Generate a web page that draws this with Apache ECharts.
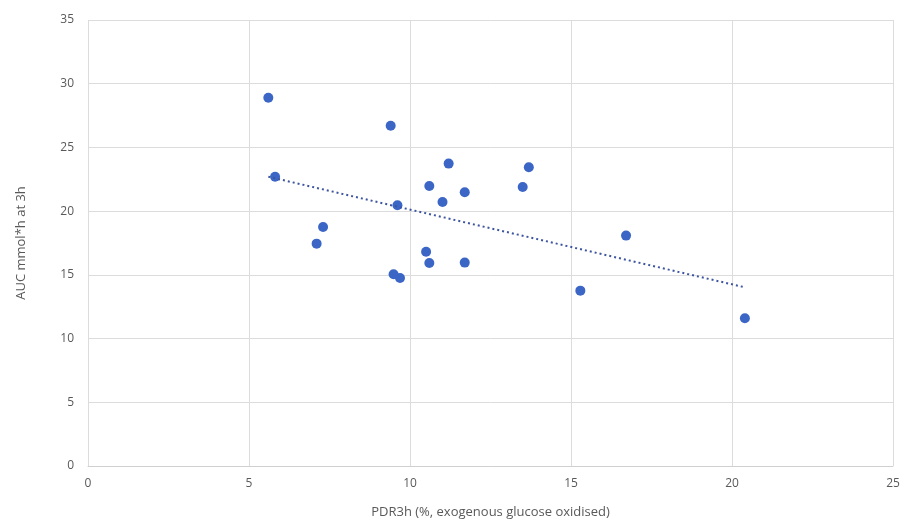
<!DOCTYPE html>
<html>
<head>
<meta charset="utf-8">
<script src="https://cdn.jsdelivr.net/npm/echarts@6/dist/echarts.min.js"></script>
<style>
  html, body { margin: 0; padding: 0; background: #fff; }
  #main { width: 906px; height: 524px; }
</style>
</head>
<body>
<div id="main"></div>
<script>
// PDR3h values (x) and AUC values (y)
var pdr = [5.60, 5.81, 7.10, 7.30, 9.40, 9.49, 9.69, 9.61, 10.50, 10.60,
           10.60, 11.01, 11.20, 11.70, 11.70, 13.50, 13.69, 15.29, 16.71, 20.40];
var auc = [28.9, 22.7, 17.45, 18.76, 26.7, 15.05, 14.76, 20.46, 16.82, 21.98,
           15.93, 20.72, 23.73, 21.48, 15.96, 21.9, 23.45, 13.76, 18.08, 11.6];
var xTicks = [0, 5, 10, 15, 20, 25];
var yTicks = [0, 5, 10, 15, 20, 25, 30, 35];

var points = pdr.map(function (x, i) { return [x, auc[i]]; });

// linear trendline (least squares), like excel
var n = pdr.length, sx = 0, sy = 0, sxy = 0, sxx = 0;
for (var i = 0; i < n; i++) {
  sx += pdr[i]; sy += auc[i]; sxy += pdr[i] * auc[i]; sxx += pdr[i] * pdr[i];
}
var slope = (n * sxy - sx * sy) / (n * sxx - sx * sx);
var icpt = (sy - slope * sx) / n;
var xmin = Math.min.apply(null, pdr), xmax = Math.max.apply(null, pdr);
var trend = [[xmin, icpt + slope * xmin], [xmax, icpt + slope * xmax]];

var myChart = echarts.init(document.getElementById('main'));
var font = 'Open Sans';
var option = {
  backgroundColor: '#fff',
  animation: false,
  grid: { left: 88, right: 13, top: 20, bottom: 58 },
  xAxis: {
    type: 'value',
    min: xTicks[0], max: xTicks[xTicks.length - 1], interval: 5,
    name: 'PDR3h (%, exogenous glucose oxidised)',
    nameLocation: 'middle', nameGap: 40,
    nameTextStyle: { color: '#595959', fontSize: 13, fontFamily: font },
    axisLine: { show: true, lineStyle: { color: '#d0d0d0' } },
    axisTick: { show: false },
    axisLabel: { color: '#595959', fontSize: 12, fontFamily: font, margin: 12 },
    splitLine: { show: true, lineStyle: { color: '#dcdcdc' } }
  },
  yAxis: {
    type: 'value',
    min: yTicks[0], max: yTicks[yTicks.length - 1], interval: 5,
    name: 'AUC mmol*h at 3h',
    nameLocation: 'middle', nameGap: 60, nameRotate: 90,
    nameTextStyle: { color: '#595959', fontSize: 13, fontFamily: font },
    axisLine: { show: false },
    axisTick: { show: false },
    axisLabel: { color: '#595959', fontSize: 12, fontFamily: font, margin: 14 },
    splitLine: { show: true, lineStyle: { color: '#dcdcdc' } }
  },
  series: [
    {
      type: 'scatter',
      data: points,
      symbolSize: 10,
      itemStyle: { color: '#3b66c6', opacity: 1 },
      z: 3
    },
    {
      type: 'line',
      data: trend,
      symbol: 'none',
      lineStyle: { color: '#3d55a0', width: 2, type: [2, 3] },
      z: 4
    }
  ]
};
myChart.setOption(option);
</script>
</body>
</html>
